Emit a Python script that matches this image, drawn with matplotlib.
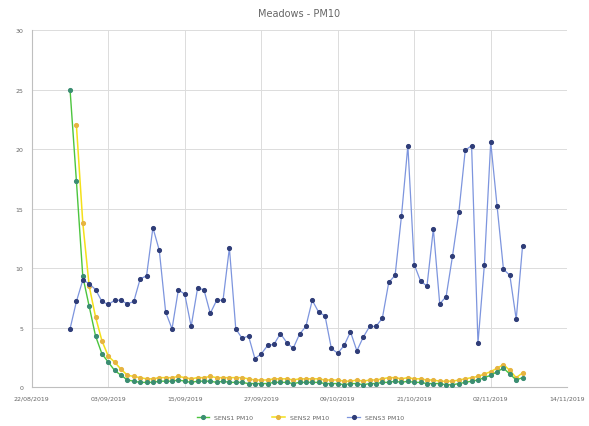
import numpy as np
import pandas as pd
import matplotlib
matplotlib.use("Agg")
import matplotlib.pyplot as plt
import matplotlib.dates as mdates
from matplotlib.ticker import FixedLocator

title = "Meadows - PM10"
series_names = ["SENS1 PM10", "SENS2 PM10", "SENS3 PM10"]
axis_start = "2019-08-22"
axis_end = "2019-11-14"
data_start = "2019-08-28"

green = [25.0, 17.3, 9.3, 6.8, 4.3, 2.8, 2.1, 1.4, 1.0, 0.6,
         0.5, 0.4, 0.4, 0.4, 0.5, 0.5, 0.5, 0.6, 0.5, 0.4,
         0.5, 0.5, 0.5, 0.4, 0.5, 0.4, 0.4, 0.4, 0.3, 0.3,
         0.3, 0.3, 0.4, 0.4, 0.4, 0.3, 0.4, 0.4, 0.4, 0.4,
         0.3, 0.3, 0.3, 0.2, 0.3, 0.3, 0.2, 0.3, 0.3, 0.4,
         0.4, 0.5, 0.4, 0.5, 0.4, 0.4, 0.3, 0.3, 0.3, 0.2,
         0.2, 0.3, 0.4, 0.5, 0.6, 0.8, 1.0, 1.3, 1.6, 1.1,
         0.6, 0.8]
yellow = [np.nan, 22.0, 13.8, 8.5, 5.9, 3.9, 2.6, 2.1, 1.5, 1.0,
          0.9, 0.8, 0.7, 0.7, 0.8, 0.8, 0.8, 0.9, 0.8, 0.7,
          0.8, 0.8, 0.9, 0.8, 0.8, 0.8, 0.8, 0.8, 0.7, 0.6,
          0.6, 0.6, 0.7, 0.7, 0.7, 0.6, 0.7, 0.7, 0.7, 0.7,
          0.6, 0.6, 0.6, 0.5, 0.5, 0.6, 0.5, 0.6, 0.6, 0.7,
          0.8, 0.8, 0.7, 0.8, 0.7, 0.7, 0.6, 0.6, 0.5, 0.5,
          0.5, 0.6, 0.7, 0.8, 0.9, 1.1, 1.3, 1.6, 1.9, 1.4,
          0.8, 1.2]
blue = [4.9, 7.2, 9.0, 8.7, 8.2, 7.2, 6.95, 7.3, 7.3, 7.0,
        7.2, 9.1, 9.35, 13.4, 11.5, 6.3, 4.9, 8.2, 7.8, 5.1,
        8.3, 8.2, 6.2, 7.3, 7.3, 11.7, 4.9, 4.1, 4.3, 2.4,
        2.8, 3.5, 3.6, 4.5, 3.75, 3.25, 4.45, 5.1, 7.3, 6.3,
        6.0, 3.25, 2.85, 3.5, 4.65, 3.05, 4.2, 5.1, 5.1, 5.8,
        8.8, 9.4, 14.4, 20.3, 10.3, 8.9, 8.5, 13.3, 7.0, 7.6,
        11.0, 14.7, 19.9, 20.3, 3.7, 10.25, 20.6, 15.2, 9.9, 9.4,
        5.7, 11.9]

dates = pd.date_range(data_start, periods=len(blue), freq="D")
tick_dates = pd.date_range(axis_start, axis_end, freq="12D")

fig = plt.figure(figsize=(5.89, 4.27), dpi=100)
ax = fig.add_axes([0.054, 0.091, 0.909, 0.836])

ax.plot(dates, green, color="#4cc53e", lw=1.0, marker="o", ms=2.7,
        mfc="#3b8d72", mec="#3b8d72", label=series_names[0], zorder=3)
ax.plot(dates, yellow, color="#f4e01a", lw=1.1, marker="o", ms=2.7,
        mfc="#e6b440", mec="#e6b440", label=series_names[1], zorder=2)
ax.plot(dates, blue, color="#7d95de", lw=0.9, marker="o", ms=2.7,
        mfc="#2f3d78", mec="#2f3d78", label=series_names[2], zorder=4)

ax.set_xlim(pd.Timestamp(axis_start), pd.Timestamp(axis_end))
ax.set_ylim(0, 30)
ax.set_yticks(np.arange(0, 31, 5))
ax.xaxis.set_major_locator(FixedLocator(mdates.date2num(tick_dates)))
ax.xaxis.set_major_formatter(mdates.DateFormatter("%d/%m/%Y"))

ax.grid(True, color="#dcdcdc", lw=0.7)
ax.set_axisbelow(True)
for s in ["top", "right"]:
    ax.spines[s].set_visible(False)
for s in ["left", "bottom"]:
    ax.spines[s].set_color("#bfbfbf")
    ax.spines[s].set_linewidth(0.8)
ax.tick_params(axis="both", length=0, labelsize=4.5, colors="#666666", pad=6)

ax.set_title(title, fontsize=7, color="#666666", pad=10)

fig.legend(loc="lower center", bbox_to_anchor=(0.51, 0.0), ncol=3,
           fontsize=4.5, frameon=False, handlelength=2.0, columnspacing=3,
           labelcolor="#666666")

fig.savefig("out.png", dpi=100)
